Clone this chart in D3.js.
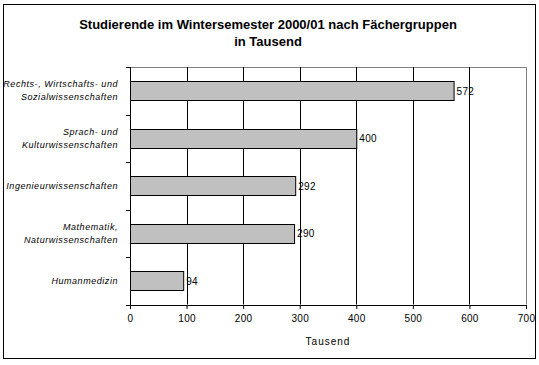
<!DOCTYPE html>
<html>
<head>
<meta charset="utf-8">
<script src="https://cdn.jsdelivr.net/npm/d3@7"></script>
<style>
	body{margin:0;background:#fff;}
	svg text{font-family:"Liberation Sans",Arial,sans-serif;fill:#000;}
</style>
</head>
<body>
<div id="chart"></div>
<script>
var categories = [
	["Rechts-, Wirtschafts- und", "Sozialwissenschaften"],
	["Sprach- und", "Kulturwissenschaften"],
	["Ingenieurwissenschaften"],
	["Mathematik,", "Naturwissenschaften"],
	["Humanmedizin"]
];
var values = [572, 400, 292, 290, 94];
var xTicks = [0, 100, 200, 300, 400, 500, 600, 700];
var titleLines = ["Studierende im Wintersemester 2000/01 nach Fächergruppen", "in Tausend"];
var xTitle = "Tausend";

var W = 539, H = 365;
var plot = {left:130, right:526, top:67, bottom:304.5};

var svg = d3.select("#chart").append("svg")
	.attr("width", W).attr("height", H);

// outer frame
svg.append("rect")
	.attr("x", 3.5).attr("y", 4.5)
	.attr("width", 532).attr("height", 354)
	.attr("fill", "#fff").attr("stroke", "#000").attr("stroke-width", 1);

var x = d3.scaleLinear().domain([0, 700]).range([plot.left, plot.right]);
var y = d3.scaleBand().domain(d3.range(values.length))
	.range([plot.top, plot.bottom]).paddingInner(0.6).paddingOuter(0.3);

// plot area frame (gray top/right)
svg.append("path")
	.attr("d", "M" + plot.left + "," + (plot.top + 0.5) + "H" + (x(700) + 0.5) + "V" + plot.bottom)
	.attr("fill", "none").attr("stroke", "#808080");

// gridlines
svg.append("g").selectAll("line")
	.data(xTicks.filter(function(d){ return d > 0 && d < 700; }))
	.enter().append("line")
	.attr("x1", function(d){ return Math.round(x(d)) + 0.5; })
	.attr("x2", function(d){ return Math.round(x(d)) + 0.5; })
	.attr("y1", plot.top).attr("y2", plot.bottom)
	.attr("stroke", "#000");

// bars
svg.append("g").selectAll("rect")
	.data(values).enter().append("rect")
	.attr("x", x(0) + 0.5)
	.attr("y", function(d, i){ return Math.round(y(i)) + 0.5; })
	.attr("width", function(d){ return x(d) - x(0); })
	.attr("height", Math.round(y.bandwidth()))
	.attr("fill", "#c0c0c0").attr("stroke", "#000");

// value labels
svg.append("g").selectAll("text")
	.data(values).enter().append("text")
	.attr("x", function(d){ return x(d) + 3; })
	.attr("y", function(d, i){ return y(i) + y.bandwidth() / 2 + 4; })
	.style("font-size", "10px").style("letter-spacing", "0.3px")
	.text(function(d){ return d; });

// x axis
var xAxis = svg.append("g")
	.attr("transform", "translate(0," + (plot.bottom + 0.5) + ")")
	.call(d3.axisBottom(x).tickValues(xTicks).tickSize(4).tickSizeOuter(0));
xAxis.select(".domain").attr("stroke", "#000");
xAxis.selectAll(".tick line").attr("stroke", "#000");
xAxis.selectAll(".tick text").attr("y", 10)
	.style("font-size", "10px").style("letter-spacing", "0.3px")
	.style("font-family", "Liberation Sans, Arial, sans-serif");

// y axis (category ticks at band boundaries)
svg.append("line")
	.attr("x1", plot.left + 0.5).attr("x2", plot.left + 0.5)
	.attr("y1", plot.top).attr("y2", plot.bottom + 1)
	.attr("stroke", "#000");
var bounds = d3.range(values.length + 1).map(function(i){ return plot.top + i * y.step(); });
svg.append("g").selectAll("line")
	.data(bounds).enter().append("line")
	.attr("x1", plot.left - 4).attr("x2", plot.left)
	.attr("y1", function(d){ return Math.round(d) + 0.5; })
	.attr("y2", function(d){ return Math.round(d) + 0.5; })
	.attr("stroke", "#000");

// category labels
var catG = svg.append("g").selectAll("text")
	.data(categories).enter().append("text")
	.attr("text-anchor", "end")
	.style("font-size", "9px").style("font-style", "italic").style("letter-spacing", "0.55px")
	.attr("transform", function(d, i){
		var cy = y(i) + y.bandwidth() / 2;
		return "translate(118," + (cy + 3 - (d.length - 1) * 6.5) + ")";
	});
catG.selectAll("tspan")
	.data(function(d){ return d; }).enter().append("tspan")
	.attr("x", 0)
	.attr("dy", function(d, j){ return j ? 13 : 0; })
	.text(function(d){ return d; });

// title
svg.append("g").selectAll("text")
	.data(titleLines).enter().append("text")
	.attr("x", 268).attr("y", function(d, i){ return 29 + i * 17; })
	.attr("text-anchor", "middle")
	.style("font-size", "13px").style("font-weight", "bold")
	.text(function(d){ return d; });

// axis title
svg.append("text")
	.attr("x", x(350)).attr("y", 345)
	.attr("text-anchor", "middle")
	.style("font-size", "10px").style("letter-spacing", "1px")
	.text(xTitle);
</script>
</body>
</html>
